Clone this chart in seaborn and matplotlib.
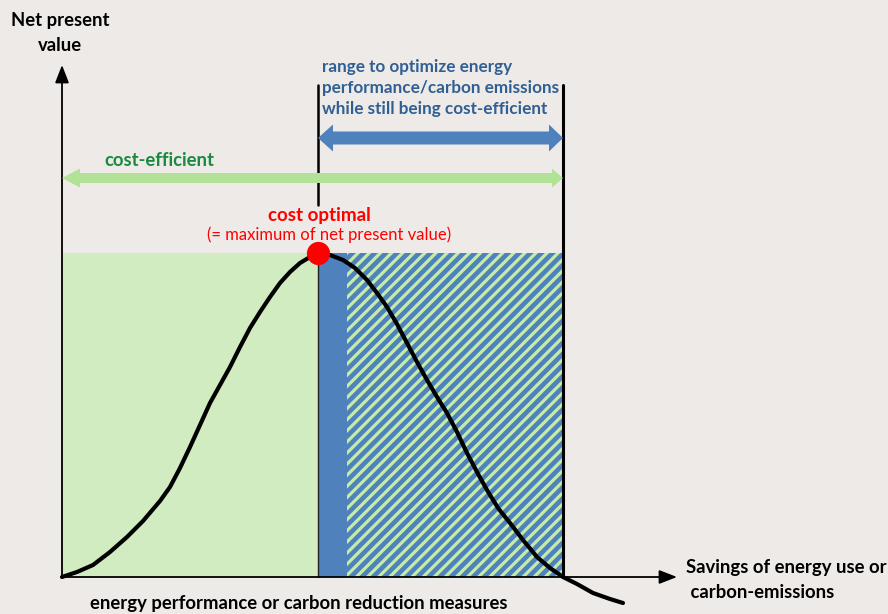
import numpy as np
import pandas as pd
import seaborn as sns
import matplotlib.pyplot as plt
from matplotlib.patches import Rectangle

# Chart units: origin at the axis corner, x to the right, y upwards
curve_x = [0, 15, 31, 48, 65, 81, 98, 108, 118, 128, 138, 148, 158, 168, 178,
           188, 198, 208, 218, 228, 238, 248, 256,
           268, 281, 293, 305, 315, 325, 335, 345, 355, 365, 375, 385, 395,
           405, 415, 425, 436, 448, 461, 475, 488, 501, 515, 531, 548, 561]
curve_y = [0, 5, 12, 25, 40, 56, 76, 90, 109, 130, 152, 174, 192, 210, 230,
           249, 265, 280, 294, 305, 314, 320, 324,
           322, 317, 309, 297, 284, 270, 253, 234, 215, 197, 180, 164, 145,
           124, 105, 87, 69, 54, 37, 20, 9, 0, -7, -16, -22, -26]

peak_x = 256           # cost optimal (maximum of net present value)
peak_y = 324
blue_end_x = 285       # end of the solid blue strip
cost_limit_x = 501     # limit of the cost-efficient range
x_axis_end = 615
y_axis_end = 512

bg = "#eeeae7"
green_fill = "#d0ecc0"
blue = "#4f81bd"
stripe = "#c4eca6"
green_arrow = "#b1e296"

sns.set_theme(style="white")
plt.rcParams["font.family"] = ["Lato", "DejaVu Sans"]
plt.rcParams["hatch.linewidth"] = 2.3
plt.rcParams["hatch.color"] = stripe

fig = plt.figure(figsize=(8.88, 6.14), dpi=100, facecolor=bg)
ax = fig.add_axes([0, 0, 1, 1])
ax.set_facecolor(bg)
ax.set_xlim(-62, 826)
ax.set_ylim(-37, 577)
ax.axis("off")

# shaded regions
ax.add_patch(Rectangle((0, 0), peak_x, peak_y, facecolor=green_fill, lw=0, zorder=1))
ax.add_patch(Rectangle((peak_x, 0), blue_end_x - peak_x, peak_y, facecolor=blue, lw=0, zorder=1))
ax.add_patch(Rectangle((blue_end_x, 0), cost_limit_x - blue_end_x, peak_y,
                       facecolor=blue, edgecolor=stripe, hatch="///", lw=0, zorder=1))

# boundary lines
ax.plot([peak_x, peak_x], [0, peak_y], color="#222222", lw=1, zorder=2)
ax.plot([peak_x, peak_x], [372, 492], color="black", lw=1.8, zorder=2)
ax.plot([cost_limit_x, cost_limit_x], [0, 492], color="black", lw=2.2, zorder=2)

# axes arrows
ax.annotate("", xy=(x_axis_end, 0), xytext=(0, 0),
            arrowprops=dict(arrowstyle="-|>,head_length=0.9,head_width=0.35",
                            color="black", lw=1.3, shrinkA=0, shrinkB=0), zorder=3)
ax.annotate("", xy=(0, y_axis_end), xytext=(0, 0),
            arrowprops=dict(arrowstyle="-|>,head_length=0.9,head_width=0.35",
                            color="black", lw=1.3, shrinkA=0, shrinkB=0), zorder=3)

# net present value curve
df = pd.DataFrame({"x": curve_x, "y": curve_y})
sns.lineplot(data=df, x="x", y="y", color="black", lw=3, sort=False, ax=ax, zorder=4,
             solid_joinstyle="round", solid_capstyle="round")
ax.scatter([peak_x], [peak_y], s=280, color="#ff0000", zorder=5, linewidths=0)


def block_double_arrow(x0, x1, y, color, tail, head, head_l0, head_l1):
    # outline of a fat two-headed arrow, half widths in chart units
    xs = [x0, x0 + head_l0, x0 + head_l0, x1 - head_l1, x1 - head_l1, x1,
          x1 - head_l1, x1 - head_l1, x0 + head_l0, x0 + head_l0]
    ys = [y, y + head, y + tail, y + tail, y + head, y,
          y - head, y - tail, y - tail, y - head]
    ax.fill(xs, ys, color=color, lw=0, zorder=3)


block_double_arrow(peak_x, cost_limit_x, 439, blue, 6.5, 13.5, 15, 14)
block_double_arrow(0, cost_limit_x, 399, green_arrow, 5, 9.5, 18, 11)

# labels
ax.text(-2, 544, "Net present\nvalue", ha="center", va="center", fontsize=13.3,
        fontweight="bold", color="black", linespacing=1.6)
ax.text(260, 489, "range to optimize energy\nperformance/carbon emissions\nwhile still being cost-efficient",
        ha="left", va="center", fontsize=12.3, fontweight="bold", color="#2f5f93", linespacing=1.38)
ax.text(42, 417, "cost-efficient", ha="left", va="center", fontsize=13.3,
        fontweight="bold", color="#1a8a40")
ax.text(257, 362, "cost optimal", ha="center", va="center", fontsize=13.5,
        fontweight="bold", color="#ff0000")
ax.text(267, 342, "(= maximum of net present value)", ha="center", va="center",
        fontsize=12, color="#ff0000")
ax.text(624, -3, "Savings of energy use or\n carbon-emissions", ha="left", va="center",
        fontsize=13.3, fontweight="bold", color="black", linespacing=1.55)
ax.text(237, -27, "energy performance or carbon reduction measures", ha="center",
        va="center", fontsize=13.3, fontweight="bold", color="black")

fig.savefig("out.png", dpi=100, facecolor=bg)
